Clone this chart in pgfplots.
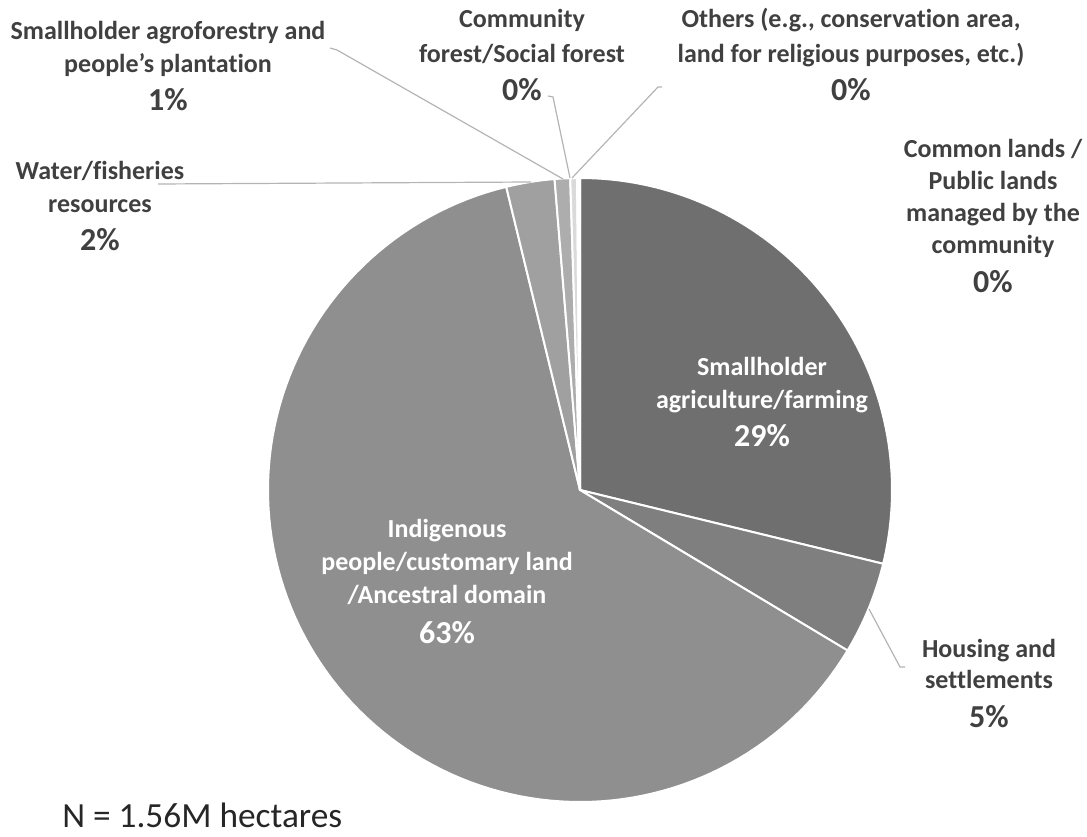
\documentclass[border=0pt]{standalone}
\usepackage{pgfplots}
\pgfplotsset{compat=1.18}
\usepackage{fontspec}
\setmainfont{Carlito}[Ligatures=NoCommon]
\definecolor{txt}{HTML}{404040}
\definecolor{lead}{HTML}{B4B4B4}
\definecolor{cA}{HTML}{6F6F6F}
\definecolor{cB}{HTML}{7F7F7F}
\definecolor{cC}{HTML}{8F8F8F}
\definecolor{cD}{HTML}{A0A0A0}
\definecolor{cE}{HTML}{ADADAD}
\definecolor{cF}{HTML}{DADADA}
\definecolor{cG}{HTML}{E8E8E8}
\definecolor{cH}{HTML}{F0F0F0}
\newcommand\lf{\fontsize{19.5}{23}\selectfont\bfseries}
\newcommand\pf{\fontsize{24}{28}\selectfont\bfseries}
% slice: start% end% colour (cumulative percentages, clockwise from 12 o'clock)
\newcommand{\slice}[3]{\addplot[fill=#3, draw=white, line width=1.5pt, line join=round, domain=#1:#2, samples=120, variable=\t] ({580+312*sin(3.6*\t)},{346+312*cos(3.6*\t)}) -- (580,346) -- cycle;}
\newcommand{\lbl}[4]{\node[anchor=base, inner sep=0pt, text=#4] at (axis cs:#1,#2) {#3};}
\begin{document}
\begin{tikzpicture}
\begin{axis}[x=0.75pt, y=0.75pt, xmin=0, xmax=1087, ymin=0, ymax=836, hide axis, clip=false]
% invisible frame so the picture keeps the full canvas
\addplot[draw=none, forget plot] coordinates {(0,0) (1087,836)};
% values (%): agriculture 28.8, housing 4.8, indigenous 62.6, water 2.5, agroforestry 0.8, community 0.35, others 0.1, common 0.05
\slice{0}{28.8}{cA}
\slice{28.8}{33.6}{cB}
\slice{33.6}{96.2}{cC}
\slice{96.2}{98.7}{cD}
\slice{98.7}{99.5}{cE}
\slice{99.5}{99.85}{cF}
\slice{99.85}{99.95}{cG}
\slice{99.95}{100}{cH}
% leader lines
\addplot[lead, line width=0.9pt, no marks] coordinates {(905,169) (900,169) (869,227)};
\addplot[lead, line width=0.9pt, no marks] coordinates {(158,652) (531,654)};
\addplot[lead, line width=0.9pt, no marks] coordinates {(330,788) (337,786) (563,657)};
\addplot[lead, line width=0.9pt, no marks] coordinates {(548,740) (553,739) (570,658)};
\addplot[lead, line width=0.9pt, no marks] coordinates {(662,749) (658,749) (572,658)};
% outside labels
\lbl{168}{796}{\lf Smallholder agroforestry and}{txt}
\lbl{168}{763}{\lf people’s plantation}{txt}
\lbl{168}{725}{\pf 1\%}{txt}
\lbl{522}{808}{\lf Community}{txt}
\lbl{522}{773}{\lf forest/Social forest}{txt}
\lbl{522}{735}{\pf 0\%}{txt}
\lbl{851}{808}{\lf Others (e.g., conservation area,}{txt}
\lbl{851}{773}{\lf land for religious purposes, etc.)}{txt}
\lbl{851}{735}{\pf 0\%}{txt}
\lbl{993}{678}{\lf Common lands /}{txt}
\lbl{993}{646}{\lf Public lands}{txt}
\lbl{993}{614}{\lf managed by the}{txt}
\lbl{993}{582}{\lf community}{txt}
\lbl{993}{543}{\pf 0\%}{txt}
\lbl{100}{656}{\lf Water/fisheries}{txt}
\lbl{100}{623}{\lf resources}{txt}
\lbl{100}{585}{\pf 2\%}{txt}
\lbl{989}{179}{\lf Housing and}{txt}
\lbl{989}{148}{\lf settlements}{txt}
\lbl{989}{109}{\pf 5\%}{txt}
% inside labels
\lbl{762}{460}{\lf Smallholder}{white}
\lbl{762}{427}{\lf agriculture/farming}{white}
\lbl{762}{390}{\pf 29\%}{white}
\lbl{447}{299}{\lf Indigenous}{white}
\lbl{447}{266}{\lf people/customary land}{white}
\lbl{447}{233}{\lf /Ancestral domain}{white}
\lbl{447}{193}{\pf 63\%}{white}
% note
\node[anchor=base west, inner sep=0pt, text=black!85, font=\fontsize{26.5}{30}\selectfont] at (axis cs:62,9) {N = 1.56M hectares};
\end{axis}
\end{tikzpicture}
\end{document}
